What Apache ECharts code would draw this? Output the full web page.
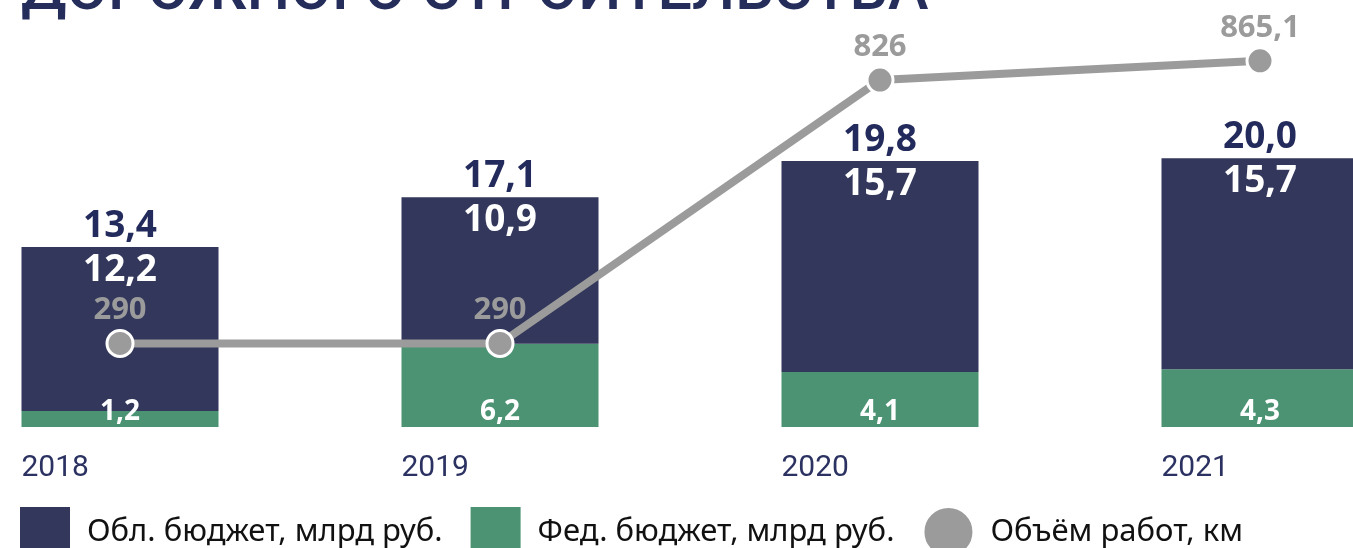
<!DOCTYPE html>
<html>
<head>
<meta charset="utf-8">
<script src="https://cdn.jsdelivr.net/npm/echarts@6/dist/echarts.min.js"></script>
<style>
  html, body { margin: 0; padding: 0; background: #fff; }
  #chart { width: 1353px; height: 548px; }
</style>
</head>
<body>
<div id="chart"></div>
<script>
/* data */
const years = ['2018', '2019', '2020', '2021'];
const oblBudget = [12.2, 10.9, 15.7, 15.7];
const fedBudget = [1.2, 6.2, 4.1, 4.3];
const totals = [13.4, 17.1, 19.8, 20.0];
const roadKm = [290, 290, 826, 865.1];

const NAVY = '#32375b';
const GREEN = '#4b9373';
const GREY = '#9b9b9b';

/* decimal comma */
const comma1 = v => v.toFixed(1).replace('.', ',');
const commaAny = v => String(v).replace('.', ',');

const chart = echarts.init(document.getElementById('chart'));

chart.setOption({
  animation: false,
  backgroundColor: '#fff',
  title: {
    text: 'ДОРОЖНОГО СТРОИТЕЛЬСТВА',
    left: 16,
    top: -42,
    textStyle: {
      fontFamily: 'Roboto',
      fontSize: 61,
      fontWeight: 500,
      color: '#252d5b'
    }
  },
  grid: { left: 120, right: 93, top: 24, bottom: 121 },
  legend: {
    left: 20,
    top: 506,
    padding: 0,
    itemWidth: 50,
    itemHeight: 50,
    itemGap: 28,
    data: [
      { name: 'Обл. бюджет, млрд руб.', icon: 'rect' },
      { name: 'Фед. бюджет, млрд руб.', icon: 'rect' },
      { name: 'Объём работ, км', icon: 'circle' }
    ],
    textStyle: {
      fontFamily: 'Noto Sans',
      fontSize: 31,
      color: '#111',
      padding: [0, 0, 0, 12]
    }
  },
  xAxis: {
    type: 'category',
    data: years,
    boundaryGap: false,
    axisLine: { show: false },
    axisTick: { show: false },
    axisLabel: {
      margin: 26,
      align: 'center',
      formatter: '{y|{value}}',
      rich: {
        y: {
          width: 197,
          align: 'left',
          fontFamily: 'Roboto',
          fontSize: 30,
          color: '#2b3261'
        }
      }
    }
  },
  yAxis: [
    { type: 'value', min: 0, max: 30, show: false },
    { type: 'value', min: 120, max: 940, show: false }
  ],
  series: [
    {
      name: 'Фед. бюджет, млрд руб.',
      type: 'bar',
      stack: 'b',
      barWidth: 197,
      clip: false,
      data: fedBudget,
      itemStyle: { color: GREEN },
      label: {
        show: true,
        position: 'insideBottom',
        distance: 1,
        color: '#fff',
        fontFamily: 'Open Sans',
        fontWeight: 'bold',
        fontSize: 28,
        formatter: p => comma1(p.value)
      }
    },
    {
      name: 'Обл. бюджет, млрд руб.',
      type: 'bar',
      stack: 'b',
      barWidth: 197,
      clip: false,
      data: oblBudget,
      itemStyle: { color: NAVY },
      label: {
        show: true,
        position: 'insideTop',
        distance: 5,
        color: '#fff',
        fontFamily: 'Open Sans',
        fontWeight: 'bold',
        fontSize: 37,
        formatter: p => comma1(p.value)
      }
    },
    {
      name: 'total',
      type: 'bar',
      barWidth: 197,
      barGap: '-100%',
      clip: false,
      silent: true,
      data: totals,
      itemStyle: { color: 'rgba(0,0,0,0)' },
      label: {
        show: true,
        position: 'top',
        distance: 2,
        color: '#232b5c',
        fontFamily: 'Open Sans',
        fontWeight: 'bold',
        fontSize: 37,
        formatter: p => comma1(p.value)
      }
    },
    {
      name: 'Объём работ, км',
      type: 'line',
      yAxisIndex: 1,
      z: 5,
      data: roadKm,
      symbol: 'circle',
      symbolSize: 26,
      lineStyle: { color: GREY, width: 8 },
      itemStyle: { color: GREY, borderColor: '#fff', borderWidth: 3 },
      label: {
        show: true,
        position: 'top',
        distance: 3,
        color: GREY,
        fontFamily: 'Open Sans',
        fontWeight: 'bold',
        fontSize: 31,
        formatter: p => commaAny(p.value)
      }
    }
  ]
});
</script>
</body>
</html>
